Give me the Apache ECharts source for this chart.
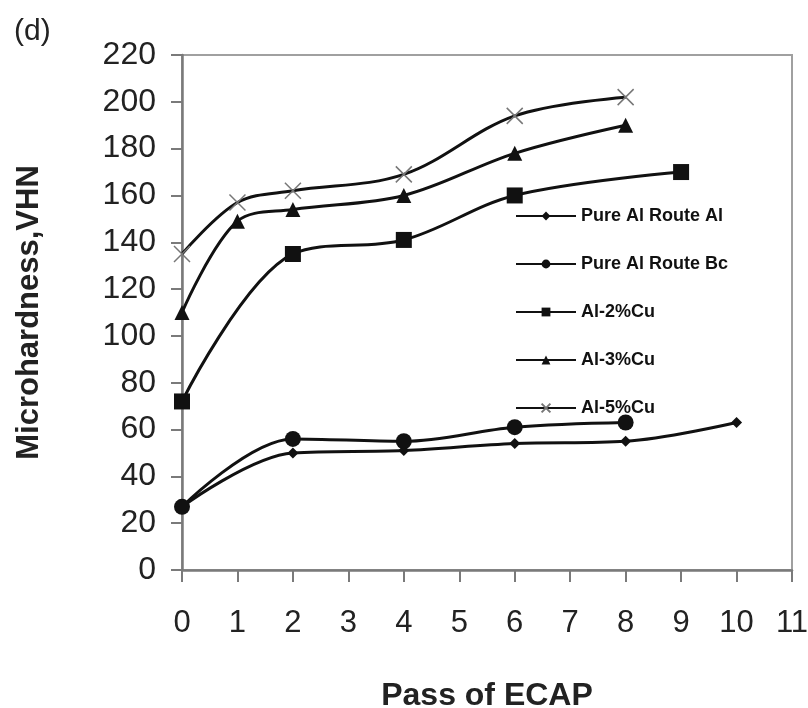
<!DOCTYPE html>
<html>
<head>
<meta charset="utf-8">
<script src="https://cdn.jsdelivr.net/npm/echarts@6/dist/echarts.min.js"></script>
<style>
  html, body { margin: 0; padding: 0; background: #fff; }
  #main { width: 808px; height: 708px; }
</style>
</head>
<body>
<div id="main"></div>
<script>
// values (passes of ECAP vs microhardness)
const seriesNames = ['Pure Al Route Al', 'Pure Al Route Bc', 'Al-2%Cu', 'Al-3%Cu', 'Al-5%Cu']

const routeAPass = [0, 2, 4, 6, 8, 10]
const routeAHv = [27, 50, 51, 54, 55, 63]

const routeBcPass = [0, 2, 4, 6, 8]
const routeBcHv = [27, 56, 55, 61, 63]

const cu2Pass = [0, 2, 4, 6, 9]
const cu2Hv = [72, 135, 141, 160, 170]

const cu3Pass = [0, 1, 2, 4, 6, 8]
const cu3Hv = [110, 149, 154, 160, 178, 190]

const cu5Pass = [0, 1, 2, 4, 6, 8]
const cu5Hv = [135, 157, 162, 169, 194, 202]

const xTicks = [0, 1, 2, 3, 4, 5, 6, 7, 8, 9, 10, 11]
const yTicks = [0, 20, 40, 60, 80, 100, 120, 140, 160, 180, 200, 220]

const pairs = (xs, ys) => xs.map((x, i) => [x, ys[i]])

const axisGray = '#7a7a7a'
const font = '"Liberation Sans", Arial, sans-serif'

const makeLine = (name, xs, ys, symbol, size, extra) => Object.assign({
  name,
  type: 'line',
  smooth: 0.35,
  data: pairs(xs, ys),
  symbol,
  symbolSize: size,
  lineStyle: { color: '#111', width: 3 },
  itemStyle: { color: '#111' },
  emphasis: { disabled: true },
  z: 3
}, extra || {})

const myChart = echarts.init(document.getElementById('main'), null, { renderer: 'canvas' })

myChart.setOption({
  animation: false,
  backgroundColor: '#fff',
  graphic: [
    {
      type: 'text',
      left: 14,
      top: 17,
      style: { text: '(d)', font: '30px ' + font, fill: '#222' }
    }
  ],
  grid: {
    left: 182,
    right: 16,
    top: 55,
    bottom: 138,
    outerBoundsMode: 'none',
    show: true,
    borderColor: '#a0a0a0',
    borderWidth: 2,
    backgroundColor: 'transparent'
  },
  legend: {
    data: seriesNames,
    orient: 'vertical',
    left: 510,
    top: 201,
    itemWidth: 60,
    itemHeight: 11,
    itemGap: 28,
    selectedMode: false,
    textStyle: {
      color: '#111',
      fontFamily: font,
      fontWeight: 'bold',
      fontSize: 18,
      lineHeight: 20
    }
  },
  xAxis: {
    type: 'value',
    min: 0,
    max: 11,
    interval: 1,
    name: 'Pass of ECAP',
    nameLocation: 'middle',
    nameGap: 110,
    nameTextStyle: { fontFamily: font, fontWeight: 'bold', fontSize: 32, color: '#222' },
    axisLine: { show: true, lineStyle: { color: axisGray, width: 2.5 } },
    axisTick: { show: true, inside: false, length: 12, lineStyle: { color: axisGray, width: 2 } },
    axisLabel: {
      margin: 38,
      fontFamily: font,
      fontSize: 31,
      color: '#222',
      formatter: v => xTicks.includes(v) ? String(v) : ''
    },
    splitLine: { show: false }
  },
  yAxis: {
    type: 'value',
    min: 0,
    max: 220,
    interval: 20,
    name: 'Microhardness,VHN',
    nameLocation: 'middle',
    nameGap: 137,
    nameTextStyle: { fontFamily: font, fontWeight: 'bold', fontSize: 31, color: '#222' },
    axisLine: { show: true, lineStyle: { color: axisGray, width: 2.5 } },
    axisTick: { show: true, inside: false, length: 11, lineStyle: { color: axisGray, width: 2 } },
    axisLabel: {
      margin: 26,
      fontFamily: font,
      fontSize: 32,
      color: '#222',
      formatter: v => yTicks.includes(v) ? String(v) : ''
    },
    splitLine: { show: false }
  },
  series: [
    makeLine(seriesNames[0], routeAPass, routeAHv, 'diamond', 11),
    makeLine(seriesNames[1], routeBcPass, routeBcHv, 'circle', 16),
    makeLine(seriesNames[2], cu2Pass, cu2Hv, 'rect', 16),
    makeLine(seriesNames[3], cu3Pass, cu3Hv, 'triangle', 15),
    makeLine(seriesNames[4], cu5Pass, cu5Hv, 'path://M0,0L10,10M10,0L0,10', 16, {
      itemStyle: { color: 'transparent', borderColor: '#777', borderWidth: 1.5 }
    })
  ]
})
</script>
</body>
</html>
